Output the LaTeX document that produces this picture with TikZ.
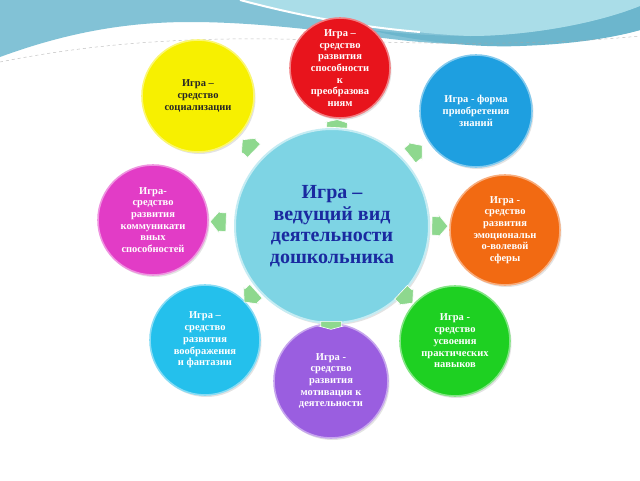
\documentclass[tikz,border=0pt]{standalone}
\usepackage{fontspec}
\setmainfont{Liberation Serif}
\usetikzlibrary{shapes.arrows,shadows,calc}
\definecolor{bgmid}{HTML}{82C2D6}
\definecolor{bglight}{HTML}{AADDE8}
\definecolor{bgdark}{HTML}{6CB6CD}
\definecolor{cred}{HTML}{E8141C}
\definecolor{cyellow}{HTML}{F7F000}
\definecolor{cblue}{HTML}{1E9FE0}
\definecolor{corange}{HTML}{F26A12}
\definecolor{cmagenta}{HTML}{E23CC6}
\definecolor{ccyan}{HTML}{24C0EC}
\definecolor{cpurple}{HTML}{9A5EE0}
\definecolor{cgreen}{HTML}{1ED022}
\definecolor{ccentral}{HTML}{7ED4E4}
\definecolor{ctext}{HTML}{1A2AA0}
\definecolor{agreen}{HTML}{8ED88E}
\begin{document}
\begin{tikzpicture}[x=1pt,y=-1pt,
  bub/.style={circle, inner sep=0pt, minimum size=#1, align=center,
    font=\bfseries\fontsize{10.5}{11.7}\selectfont, text=white, line width=1.6pt,
    drop shadow={opacity=0.22, shadow xshift=1.5pt, shadow yshift=-2pt}},
  garrow/.style={single arrow, single arrow head extend=2pt, single arrow tip angle=100,
    minimum height=16pt, inner xsep=0pt, inner ysep=9pt,
    fill=agreen, draw=white, line width=0.6pt},
  flatarrow/.style={garrow, minimum height=8pt, inner ysep=10pt, single arrow tip angle=150}]
\useasboundingbox (0,0) rectangle (640,480);
\fill[white] (0,0) rectangle (640,480);
% background waves
\fill[bgmid] (0,0) -- (640,0) -- (640,30) .. controls (580,46) and (470,48) .. (400,40)
  .. controls (330,32) and (260,22) .. (190,22) .. controls (120,22) and (60,35) .. (0,57) -- cycle;
\fill[bgdark] (640,6) .. controls (590,26) and (520,36) .. (470,36)
  .. controls (430,36) and (395,33) .. (370,30) .. controls (410,40) and (470,48) .. (520,46)
  .. controls (580,44) and (620,36) .. (640,30) -- cycle;
\fill[bglight] (240,0) .. controls (320,20) and (410,34) .. (470,36)
  .. controls (520,36) and (590,26) .. (640,6) -- (640,0) -- cycle;
\draw[white, line width=2pt] (240,0) .. controls (300,16) and (360,27) .. (420,32);
\draw[gray!70, dashed, line width=0.5pt, opacity=0.7] (0,62) .. controls (100,42) and (200,36) .. (320,40)
  .. controls (420,44) and (540,46) .. (640,36);
% central circle
\node[bub=194pt, fill=ccentral, draw=ccentral!45!white, line width=2pt, text=ctext,
  font=\bfseries\fontsize{20}{21.5}\selectfont] (c) at (332,226)
  {Игра –\\ведущий вид\\деятельности\\дошкольника};
% outer circles
\node[bub=100pt, fill=cred, draw=cred!55!white] (red) at (340,68)
  {Игра –\\средство\\развития\\способности\\к\\преобразова\\ниям};
\node[bub=112pt, fill=cyellow, draw=cyellow!55!white, text=black!85] (yellow) at (198,96)
  {Игра –\\средство\\социализации};
\node[bub=112pt, fill=cblue, draw=cblue!55!white] (blue) at (476,111)
  {Игра - форма\\приобретения\\знаний};
\node[bub=110pt, fill=corange, draw=corange!55!white] (orange) at (505,230)
  {Игра -\\средство\\развития\\эмоциональн\\о-волевой\\сферы};
\node[bub=110pt, fill=cmagenta, draw=cmagenta!55!white] (magenta) at (153,220)
  {Игра-\\средство\\развития\\коммуникати\\вных\\способностей};
\node[bub=110pt, fill=ccyan, draw=ccyan!55!white] (cyan) at (205,340)
  {Игра –\\средство\\развития\\воображения\\и фантазии};
\node[bub=114pt, fill=cpurple, draw=cpurple!55!white] (purple) at (331,381)
  {Игра -\\средство\\развития\\мотивация к\\деятельности};
\node[bub=110pt, fill=cgreen, draw=cgreen!55!white] (green) at (455,341)
  {Игра -\\средство\\усвоения\\практических\\навыков};
% arrows
\node[flatarrow, rotate=87] (a1) at (337,125) {};
\node[garrow, rotate=136] (a2) at (251,148) {};
\node[garrow, rotate=39] (a3) at (413,153) {};
\node[garrow, rotate=-1] (a4) at (436,226) {};
\node[garrow, rotate=-43] (a5) at (404,295) {};
\node[flatarrow, rotate=-90] (a6) at (331,324) {};
\node[garrow, rotate=-138] (a7) at (253,294) {};
\node[garrow, rotate=178] (a8) at (222,222) {};
\end{tikzpicture}
\end{document}
